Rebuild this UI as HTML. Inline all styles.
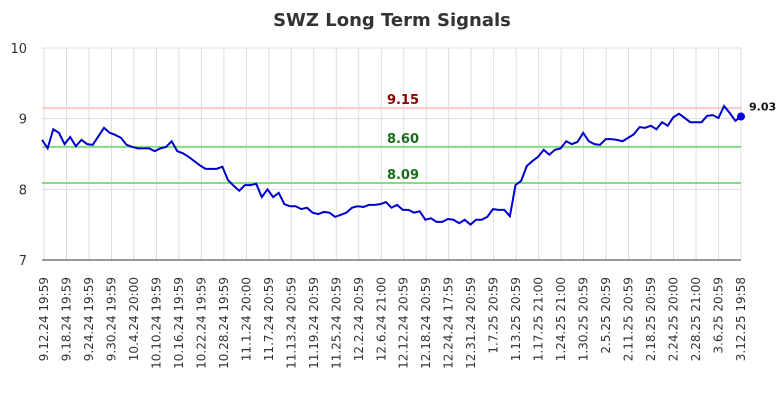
<!DOCTYPE html>
<html><head><meta charset="utf-8"><style>
body{margin:0;background:#fff;font-family:"DejaVu Sans",sans-serif}
</style></head><body>
<svg id="chart" width="784" height="400" xmlns="http://www.w3.org/2000/svg" font-family="DejaVu Sans, sans-serif">
<text x="392" y="26" text-anchor="middle" font-size="18" font-weight="bold" fill="#333">SWZ Long Term Signals</text>
<g id="grid"></g><g id="refs"></g><g id="series"></g><g id="axes"></g>
</svg>
<script>
const dateLabels=["9.12.24 19:59","9.18.24 19:59","9.24.24 19:59","9.30.24 19:59","10.4.24 20:00","10.10.24 19:59","10.16.24 19:59","10.22.24 19:59","10.28.24 19:59","11.1.24 20:00","11.7.24 20:59","11.13.24 20:59","11.19.24 20:59","11.25.24 20:59","12.2.24 20:59","12.6.24 21:00","12.12.24 20:59","12.18.24 20:59","12.24.24 17:59","12.31.24 20:59","1.7.25 20:59","1.13.25 20:59","1.17.25 21:00","1.24.25 21:00","1.30.25 20:59","2.5.25 20:59","2.11.25 20:59","2.18.25 20:59","2.24.25 20:00","2.28.25 21:00","3.6.25 20:59","3.12.25 19:58"];
const yTicks=[7,8,9,10];
const refValues=[9.15,8.60,8.09];
const prices=[8.70,8.58,8.85,8.80,8.64,8.74,8.61,8.70,8.64,8.63,8.75,8.87,8.80,8.77,8.73,8.63,8.60,8.58,8.58,8.58,8.54,8.58,8.60,8.68,8.54,8.51,8.46,8.40,8.34,8.29,8.29,8.29,8.32,8.13,8.05,7.98,8.06,8.06,8.08,7.89,8.00,7.89,7.95,7.79,7.76,7.76,7.72,7.74,7.67,7.65,7.68,7.67,7.61,7.64,7.67,7.74,7.76,7.75,7.78,7.78,7.79,7.82,7.74,7.78,7.71,7.71,7.67,7.69,7.57,7.59,7.54,7.54,7.58,7.57,7.52,7.57,7.50,7.57,7.57,7.61,7.72,7.71,7.71,7.62,8.06,8.12,8.33,8.40,8.46,8.56,8.49,8.56,8.58,8.68,8.64,8.67,8.80,8.68,8.64,8.63,8.71,8.71,8.70,8.68,8.73,8.78,8.88,8.87,8.90,8.85,8.95,8.90,9.02,9.07,9.01,8.95,8.95,8.95,9.04,9.05,9.01,9.18,9.08,8.97,9.03];
const X0=42,X1=741,Y0=260,Y1=48;
const NS="http://www.w3.org/2000/svg";
const yS=v=>Y0-(v-7)/3*(Y0-Y1);
const xL=i=>X0+2+i*(X1-X0-2)/(dateLabels.length-1);
const xP=i=>X0+i*(X1-X0)/(prices.length-1);
function mk(t,a,p){const e=document.createElementNS(NS,t);for(const k in a)e.setAttribute(k,a[k]);p.appendChild(e);return e;}
const grid=document.getElementById('grid'),refs=document.getElementById('refs'),ser=document.getElementById('series'),axes=document.getElementById('axes');
dateLabels.forEach((d,i)=>{
 const l=mk('line',{x1:xL(i),x2:xL(i),y1:Y1,y2:Y0,stroke:'#ddd','stroke-width':1},grid);
 
 
 const t=mk('text',{x:0,y:0,transform:`translate(${xL(i)+4},277) rotate(-90)`,'text-anchor':'end','font-size':12,fill:'#333'},axes);
 t.textContent=d;
 
 
});
yTicks.forEach(v=>{
 const l=mk('line',{x1:X0,x2:X1,y1:yS(v),y2:yS(v),stroke:'#ddd','stroke-width':1},grid);
 
 
 const t=mk('text',{x:27,y:yS(v)+5,'text-anchor':'end','font-size':13,fill:'#333'},axes);
 t.textContent=v;
 
 
});
const ax=mk('line',{x1:X0,x2:X1,y1:Y0,y2:Y0,stroke:'#333','stroke-width':1},axes);


const refCols=['#ffc8c8','#80e080','#80e080'],refTxt=['#8b0000','#1a6b1a','#1a6b1a'];
refValues.forEach((v,i)=>{
 const l=mk('line',{x1:X0,x2:X1,y1:yS(v),y2:yS(v),stroke:refCols[i],'stroke-width':2},refs);
 
 
 const t=mk('text',{x:403,y:yS(v)-4,'text-anchor':'middle','font-size':13,'font-weight':'bold',fill:refTxt[i]},refs);
 t.textContent=v.toFixed(2);
 
 
});
const pl=mk('polyline',{points:prices.map((v,i)=>xP(i)+','+yS(v)).join(' '),fill:'none',stroke:'#0000cc','stroke-width':2},ser);


const n=prices.length-1;
const dot=mk('circle',{cx:xP(n),cy:yS(prices[n]),r:4,fill:'#0000ee'},ser);


const lt=mk('text',{x:xP(n)+8,y:yS(prices[n])-6,'font-size':11,'font-weight':'bold',fill:'#111'},ser);
lt.textContent=prices[n].toFixed(2);


</script>
</body></html>
